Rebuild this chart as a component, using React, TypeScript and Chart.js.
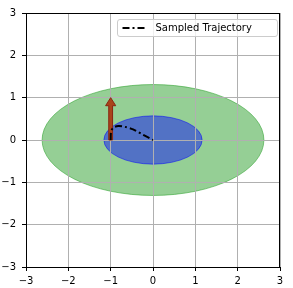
import React, { useEffect, useRef } from "react";
import { Chart, registerables } from "chart.js";

Chart.register(...registerables);

// ---- data ----
const xTicks = [-3, -2, -1, 0, 1, 2, 3];
const yTicks = [-3, -2, -1, 0, 1, 2, 3];

const trajLabel = "Sampled Trajectory";
const trajX = [-1.0, -0.99, -0.94, -0.82, -0.66, -0.47, -0.23, 0.0];
const trajY = [0.0, 0.2, 0.29, 0.33, 0.31, 0.25, 0.12, 0.0];

const ellipseCX = [0, 0];
const ellipseCY = [0, 0];
const ellipseRX = [2.62, 1.16];
const ellipseRY = [1.31, 0.57];

const arrowX = [-1];
const arrowY = [0];
const arrowDX = [0];
const arrowDY = [1];

// ---- styles ----
const ellipseFill = ["rgba(44,160,44,0.5)", "rgba(0,0,255,0.45)"];
const ellipseStroke = ["rgba(44,160,44,0.55)", "rgba(0,0,255,0.5)"];
const FONT = "DejaVu Sans";
const fmt = (v: number) => (v < 0 ? "\u2212" + Math.abs(v) : String(v));

const shapesPlugin = {
  id: "shapes",
  beforeDraw(chart: any) {
    const { ctx, scales } = chart;
    const sx = scales.x, sy = scales.y;
    const ca = chart.chartArea;
    ctx.save();
    ctx.beginPath();
    ctx.rect(ca.left, ca.top, ca.right - ca.left, ca.bottom - ca.top);
    ctx.clip();
    for (let i = 0; i < ellipseCX.length; i++) {
      const cx = sx.getPixelForValue(ellipseCX[i]);
      const cy = sy.getPixelForValue(ellipseCY[i]);
      const rx = Math.abs(sx.getPixelForValue(ellipseCX[i] + ellipseRX[i]) - cx);
      const ry = Math.abs(sy.getPixelForValue(ellipseCY[i] + ellipseRY[i]) - cy);
      ctx.beginPath();
      ctx.ellipse(cx, cy, rx, ry, 0, 0, Math.PI * 2);
      ctx.fillStyle = ellipseFill[i];
      ctx.fill();
      ctx.lineWidth = 1;
      ctx.strokeStyle = ellipseStroke[i];
      ctx.stroke();
    }
    ctx.restore();
  },
  beforeDatasetsDraw(chart: any) {
    const { ctx, scales } = chart;
    const sx = scales.x, sy = scales.y;
    const pxPerUnit = Math.abs(sx.getPixelForValue(1) - sx.getPixelForValue(0));
    const shaftW = 0.045 * pxPerUnit;
    const headW = 0.12 * pxPerUnit;
    const headL = 0.19 * pxPerUnit;
    ctx.save();
    for (let i = 0; i < arrowX.length; i++) {
      const x0 = sx.getPixelForValue(arrowX[i]);
      const y0 = sy.getPixelForValue(arrowY[i]);
      const x1 = sx.getPixelForValue(arrowX[i] + arrowDX[i]);
      const y1 = sy.getPixelForValue(arrowY[i] + arrowDY[i]);
      const len = Math.hypot(x1 - x0, y1 - y0);
      const ux = (x1 - x0) / len, uy = (y1 - y0) / len;
      const nx = -uy, ny = ux;
      const bx = x1 - ux * headL, by = y1 - uy * headL;
      const path = (dx: number) => {
        ctx.beginPath();
        ctx.moveTo(x0 + nx * shaftW + dx, y0 + ny * shaftW);
        ctx.lineTo(bx + nx * shaftW + dx, by + ny * shaftW);
        ctx.lineTo(bx + nx * headW + dx, by + ny * headW);
        ctx.lineTo(x1 + dx, y1);
        ctx.lineTo(bx - nx * headW + dx, by - ny * headW);
        ctx.lineTo(bx - nx * shaftW + dx, by - ny * shaftW);
        ctx.lineTo(x0 - nx * shaftW + dx, y0 - ny * shaftW);
        ctx.closePath();
      };
      path(0);
      ctx.fillStyle = "#a9441a";
      ctx.fill();
      ctx.lineWidth = 1;
      ctx.strokeStyle = "#8a2410";
      ctx.stroke();
    }
    ctx.restore();
  },
  afterDraw(chart: any) {
    const { ctx } = chart;
    const ca = chart.chartArea;
    ctx.save();
    // top & right spines
    ctx.strokeStyle = "#000";
    ctx.lineWidth = 1;
    ctx.beginPath();
    const t = Math.round(ca.top) + 0.5;
    const r = Math.round(ca.right) - 0.5;
    ctx.moveTo(Math.round(ca.left), t);
    ctx.lineTo(Math.round(ca.right), t);
    ctx.moveTo(r, Math.round(ca.top));
    ctx.lineTo(r, Math.round(ca.bottom));
    ctx.stroke();

    // legend
    const bw = 160, bh = 17;
    const bx = Math.round(ca.right) - 3 - bw + 0.5;
    const by = Math.round(ca.top) + 6 + 0.5;
    const rad = 2.5;
    ctx.beginPath();
    ctx.moveTo(bx + rad, by);
    ctx.lineTo(bx + bw - rad, by);
    ctx.quadraticCurveTo(bx + bw, by, bx + bw, by + rad);
    ctx.lineTo(bx + bw, by + bh - rad);
    ctx.quadraticCurveTo(bx + bw, by + bh, bx + bw - rad, by + bh);
    ctx.lineTo(bx + rad, by + bh);
    ctx.quadraticCurveTo(bx, by + bh, bx, by + bh - rad);
    ctx.lineTo(bx, by + rad);
    ctx.quadraticCurveTo(bx, by, bx + rad, by);
    ctx.closePath();
    ctx.fillStyle = "rgba(255,255,255,0.8)";
    ctx.fill();
    ctx.strokeStyle = "#cccccc";
    ctx.stroke();

    const ly = by + bh / 2;
    ctx.beginPath();
    ctx.setLineDash([7, 3, 2, 3]);
    ctx.strokeStyle = "#000";
    ctx.lineWidth = 2;
    ctx.moveTo(bx + 5, ly);
    ctx.lineTo(bx + 30, ly);
    ctx.stroke();
    ctx.setLineDash([]);
    ctx.fillStyle = "#000";
    ctx.font = `10px "${FONT}"`;
    ctx.textBaseline = "middle";
    ctx.textAlign = "left";
    ctx.fillText(trajLabel, bx + 38, ly + 0.5);
    ctx.restore();
  },
};

export default function App() {
  const ref = useRef<HTMLCanvasElement | null>(null);
  useEffect(() => {
    if (!ref.current) return;
    const chart = new Chart(ref.current, {
      type: "scatter",
      data: {
        datasets: [
          {
            label: trajLabel,
            data: trajX.map((x, i) => ({ x, y: trajY[i] })),
            showLine: true,
            borderColor: "#000",
            borderWidth: 2,
            borderDash: [7, 3, 2, 3],
            pointRadius: 0,
            fill: false,
            tension: 0.3,
          } as any,
        ],
      },
      options: {
        animation: false,
        responsive: false,
        devicePixelRatio: 1,
        layout: { padding: { left: 0, right: 13, top: 13, bottom: 0 } },
        plugins: { legend: { display: false }, tooltip: { enabled: false } },
        scales: {
          x: {
            type: "linear",
            min: -3,
            max: 3,
            afterBuildTicks: (s: any) => {
              s.ticks = xTicks.map((v) => ({ value: v }));
            },
            afterFit: (s: any) => {
              s.height = 21;
            },
            ticks: {
              callback: (v: any) => fmt(Number(v)),
              font: { family: FONT, size: 10 },
              color: "#000",
              padding: 4,
              maxRotation: 0,
              autoSkip: false,
            },
            grid: { color: "#b0b0b0", lineWidth: 1, tickLength: 4, tickColor: "#000", drawTicks: true },
            border: { display: true, color: "#000", width: 1 },
          },
          y: {
            type: "linear",
            min: -3,
            max: 3,
            afterBuildTicks: (s: any) => {
              s.ticks = yTicks.map((v) => ({ value: v }));
            },
            afterFit: (s: any) => {
              s.width = 26;
            },
            ticks: {
              callback: (v: any) => fmt(Number(v)),
              font: { family: FONT, size: 10 },
              color: "#000",
              padding: 6,
              autoSkip: false,
            },
            grid: { color: "#b0b0b0", lineWidth: 1, tickLength: 4, tickColor: "#000", drawTicks: true },
            border: { display: true, color: "#000", width: 1 },
          },
        },
      } as any,
      plugins: [shapesPlugin],
    });
    return () => chart.destroy();
  }, []);
  return (
    <div style={{ position: "absolute", left: 0, top: 0, width: 293, height: 288 }}>
      <canvas ref={ref} width={293} height={288} style={{ display: "block", width: 293, height: 288 }} />
    </div>
  );
}
